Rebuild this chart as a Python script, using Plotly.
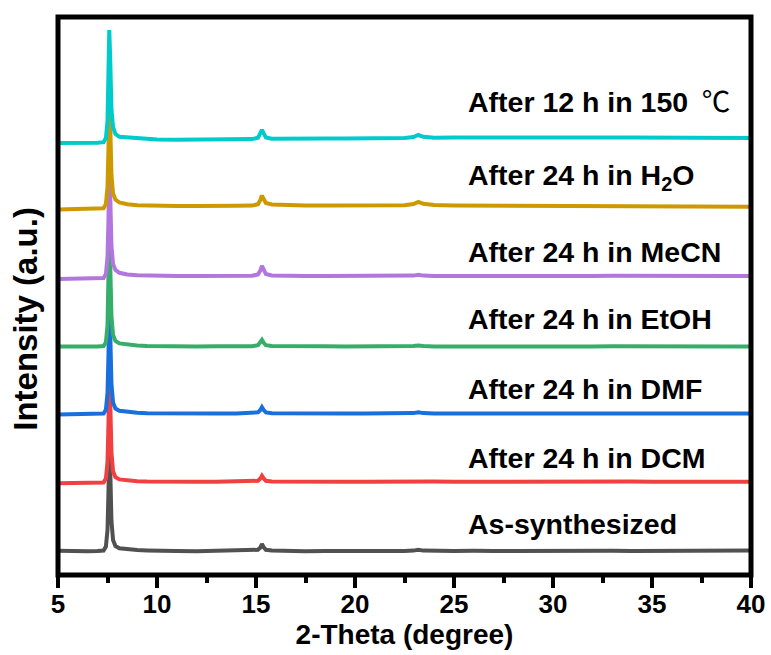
import plotly.graph_objects as go

# 2-theta sampling points (denser around the diffraction peaks)
two_theta = [5.0, 5.5, 6.0, 6.5, 7.0, 7.3, 7.42, 7.5, 7.55, 7.59, 7.64, 7.7, 7.78, 7.9,
             8.1, 8.5, 9.0, 9.5, 10.0, 11.0, 12.0, 13.0, 14.0, 14.8, 15.1, 15.22, 15.3,
             15.38, 15.5, 15.8, 16.5, 17.5, 18.5, 19.5, 20.5, 21.5, 22.5, 22.95, 23.2,
             23.45, 24.0, 25.0, 26.0, 26.5, 27.0, 28.0, 29.0, 30.0, 31.0, 32.0, 33.0,
             34.0, 35.0, 36.0, 37.0, 38.0, 39.0, 40.0]

as_synthesized = [222, 218, 220, 217, 220, 225, 265, 430, 820, 1370, 1020, 520, 330, 270,
                  248, 236, 230, 226, 222, 220, 218, 221, 219, 222, 232, 255, 290,
                  260, 232, 224, 220, 218, 221, 219, 222, 220, 221, 224, 232,
                  224, 221, 219, 222, 225, 221, 220, 222, 220, 221, 219, 222,
                  221, 223, 222, 224, 223, 225, 226]

dcm_24h = [198, 200, 197, 199, 201, 206, 245, 410, 800, 1350, 1000, 505, 318, 258,
           236, 224, 218, 214, 212, 211, 213, 212, 213, 214, 222, 245, 272,
           248, 222, 215, 213, 212, 214, 213, 212, 214, 213, 215, 222,
           216, 214, 213, 214, 216, 214, 213, 214, 213, 214, 213, 215,
           214, 213, 214, 215, 214, 213, 213]

dmf_24h = [206, 208, 205, 207, 209, 214, 252, 420, 810, 1360, 1010, 512, 325, 265,
           243, 230, 222, 218, 216, 215, 216, 214, 216, 217, 226, 250, 278,
           252, 226, 218, 216, 215, 217, 216, 215, 216, 217, 219, 228,
           219, 216, 215, 216, 218, 216, 215, 216, 215, 216, 215, 217,
           216, 215, 216, 215, 216, 215, 215]

etoh_24h = [214, 212, 215, 213, 215, 220, 258, 425, 815, 1365, 1015, 518, 330, 270,
            246, 232, 224, 220, 217, 216, 215, 217, 215, 217, 228, 252, 282,
            255, 228, 219, 216, 215, 217, 216, 215, 216, 217, 219, 226,
            219, 216, 215, 216, 218, 216, 215, 216, 215, 216, 215, 218,
            216, 215, 216, 215, 216, 215, 215]

mecn_24h = [190, 192, 189, 191, 194, 200, 240, 410, 800, 1350, 1010, 520, 340, 280,
            252, 236, 228, 224, 222, 220, 221, 219, 221, 222, 236, 275, 322,
            285, 240, 226, 222, 220, 221, 220, 221, 220, 222, 224, 232,
            224, 221, 220, 222, 224, 221, 220, 221, 222, 221, 220, 223,
            221, 220, 221, 222, 221, 220, 221]

h2o_24h = [186, 189, 185, 188, 190, 197, 240, 410, 800, 1350, 1015, 525, 345, 285,
           255, 238, 228, 224, 221, 219, 221, 218, 222, 224, 238, 280, 325,
           292, 250, 235, 228, 225, 226, 224, 225, 226, 228, 240, 262,
           242, 230, 226, 225, 228, 224, 222, 221, 220, 219, 218, 220,
           217, 216, 215, 214, 213, 212, 212]

heat_150c_12h = [160, 158, 161, 159, 162, 168, 210, 380, 770, 1290, 980, 495, 318, 250,
                 222, 215, 205, 198, 195, 193, 195, 196, 198, 199, 212, 250, 292,
                 258, 215, 203, 201, 203, 204, 206, 207, 208, 210, 220, 240,
                 222, 213, 214, 215, 218, 215, 216, 215, 216, 215, 214, 215,
                 214, 213, 213, 212, 212, 211, 210]

# Patterns stacked from bottom to top
patterns = [as_synthesized, dcm_24h, dmf_24h, etoh_24h, mecn_24h, h2o_24h, heat_150c_12h]
offsets = [0, 700, 1380, 2050, 2750, 3450, 4140]
labels = ["As-synthesized", "After 24 h in DCM", "After 24 h in DMF", "After 24 h in EtOH",
          "After 24 h in MeCN", "After 24 h in H<sub>2</sub>O",
          "After 12 h in 150 <span style=\"font-family:'Noto Sans CJK SC';"
          "font-weight:normal\">\u2009\u2103</span>"]
label_y = [490, 1150, 1840, 2540, 3210, 3960, 4740]
colors = ["#515151", "#F14040", "#1A6FDF", "#37AD6B", "#B177DE", "#CC9900", "#00CBCC"]

x_ticks = [5, 10, 15, 20, 25, 30, 35, 40]

FONT = "Liberation Sans, Arial, sans-serif"

fig = go.Figure()
for ys, off, col in zip(patterns, offsets, colors):
    fig.add_trace(go.Scatter(
        x=two_theta, y=[v + off for v in ys], mode="lines",
        line=dict(color=col, width=4), showlegend=False, hoverinfo="x+y",
    ))

for name, yl in zip(labels, label_y):
    fig.add_annotation(x=25.6, y=yl, xref="x", yref="y", text=name, showarrow=False,
                       xanchor="left", yanchor="middle",
                       font=dict(family=FONT, size=28.5, color="black", weight="bold"))

fig.add_annotation(x=-0.047, y=0.46, xref="paper", yref="paper", text="Intensity (a.u.)",
                   textangle=-90, showarrow=False, xanchor="center", yanchor="middle",
                   font=dict(family=FONT, size=33, color="black", weight="bold"))

fig.add_shape(type="rect", xref="paper", yref="paper", x0=0, x1=1, y0=0, y1=1,
              line=dict(color="black", width=5), layer="above")

fig.update_layout(
    width=771, height=655,
    margin=dict(l=58, r=20, t=17, b=80, autoexpand=False),
    plot_bgcolor="white", paper_bgcolor="white",
    xaxis=dict(
        range=[5, 40], tickvals=x_ticks, ticks="outside", ticklen=12, tickwidth=4,
        tickcolor="black", showgrid=False, zeroline=False, showline=False,
        automargin=False, ticklabelstandoff=-6,
        minor=dict(dtick=2.5, tick0=5, ticks="outside", ticklen=7, tickwidth=4,
                   tickcolor="black", showgrid=False),
        tickfont=dict(family=FONT, size=26, color="black", weight="bold"),
        title=dict(text="2-Theta (degree)", standoff=4,
                   font=dict(family=FONT, size=28, color="black", weight="bold")),
    ),
    yaxis=dict(range=[-20, 5560], showticklabels=False, ticks="", showgrid=False,
               zeroline=False, showline=False, automargin=False),
)

fig.write_html("out.html")
